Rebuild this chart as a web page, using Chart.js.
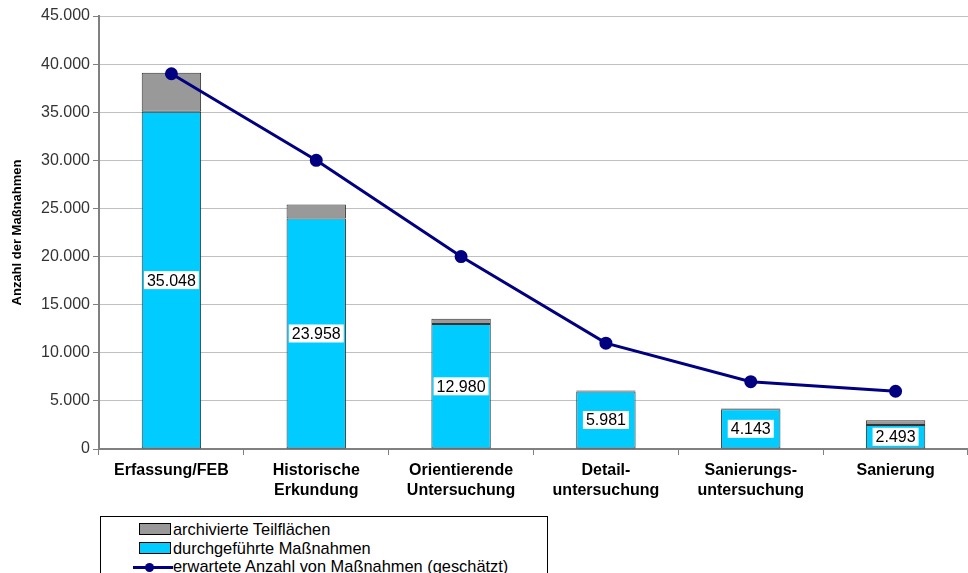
<!DOCTYPE html>
<html>
<head>
<meta charset="utf-8">
<script src="https://cdn.jsdelivr.net/npm/chart.js@4.4.1/dist/chart.umd.min.js"></script>
<style>
  body { margin: 0; background: #fff; font-family: "Liberation Sans", Arial, sans-serif; }
  #wrap { position: relative; width: 968px; height: 573px; overflow: hidden; }
  #legend { position: absolute; left: 100px; top: 516px; width: 446px; height: 70px;
            border: 1px solid #000; background: #fff; font-size: 16.4px; color: #000; }
  .row { position: absolute; left: 38px; height: 18px; line-height: 18px; white-space: nowrap; }
  .sw { display: inline-block; width: 30px; height: 10px; border: 1px solid #000; vertical-align: 0px; margin-right: 2px; }
  .ln { display: inline-block; position: relative; width: 40px; height: 10px; margin-left: -6px; margin-right: 0px; vertical-align: 0px; }
  .ln:before { content: ""; position: absolute; left: 0; right: 0; top: 4px; height: 3px; background: #000080; }
  .ln:after { content: ""; position: absolute; left: 12px; top: 1px; width: 9px; height: 9px; border-radius: 50%; background: #000080; }
</style>
</head>
<body>
<div id="wrap">
  <canvas id="myChart" width="968" height="573"></canvas>
  <div id="legend">
    <div class="row" style="top:3px"><span class="sw" style="background:#999999"></span>archivierte Teilflächen</div>
    <div class="row" style="top:22px"><span class="sw" style="background:#00ccff"></span>durchgeführte Maßnahmen</div>
    <div class="row" style="top:40px"><span class="ln"></span>erwartete Anzahl von Maßnahmen (geschätzt)</div>
  </div>
</div>
<script>
const categories = ['Erfassung/FEB', ['Historische', 'Erkundung'], ['Orientierende', 'Untersuchung'],
                    ['Detail-', 'untersuchung'], ['Sanierungs-', 'untersuchung'], 'Sanierung'];
const durchgefuehrt = [35048, 23958, 12980, 5981, 4143, 2493];
const archiviert = [4050, 1450, 550, 90, 60, 500];
const erwartet = [39000, 30000, 20000, 11000, 7000, 6000];
const yTicks = [0, 5000, 10000, 15000, 20000, 25000, 30000, 35000, 40000, 45000];

const FONT = '"Liberation Sans", Arial, sans-serif';

// German thousands separator
function fmt(v) {
    return String(v).replace(/\B(?=(\d{3})+(?!\d))/g, '.');
}

// Labels inside the blue bars
const barLabels = {
    id: 'barLabels',
    afterDatasetsDraw(chart) {
        const ctx = chart.ctx;
        const meta = chart.getDatasetMeta(1);
        ctx.save();
        ctx.font = '16px ' + FONT;
        ctx.textAlign = 'center';
        ctx.textBaseline = 'middle';
        meta.data.forEach((bar, i) => {
            const txt = fmt(durchgefuehrt[i]);
            const y = (bar.y + bar.base) / 2;
            const w = ctx.measureText(txt).width + 6;
            ctx.fillStyle = '#fff';
            ctx.fillRect(bar.x - w / 2, y - 9, w, 18);
            ctx.fillStyle = '#000';
            ctx.fillText(txt, bar.x, y + 1);
        });
        ctx.restore();
    }
};

new Chart(document.getElementById('myChart'), {
    data: {
        labels: categories,
        datasets: [{
            type: 'line',
            label: 'erwartete Anzahl von Maßnahmen (geschätzt)',
            data: erwartet,
            stack: 'line',
            order: 0,
            borderColor: '#000080',
            backgroundColor: '#000080',
            borderWidth: 3,
            pointRadius: 5,
            pointHoverRadius: 5,
            tension: 0
        }, {
            type: 'bar',
            label: 'durchgeführte Maßnahmen',
            data: durchgefuehrt,
            stack: 'bars',
            order: 1,
            backgroundColor: '#00ccff',
            borderColor: '#333333',
            borderWidth: 1,
            borderSkipped: false,
            barPercentage: 0.41,
            categoryPercentage: 1
        }, {
            type: 'bar',
            label: 'archivierte Teilflächen',
            data: archiviert,
            stack: 'bars',
            order: 2,
            backgroundColor: '#999999',
            borderColor: '#333333',
            borderWidth: 1,
            borderSkipped: false,
            barPercentage: 0.41,
            categoryPercentage: 1
        }]
    },
    options: {
        responsive: false,
        animation: false,
        layout: { autoPadding: false, padding: { top: 16, right: -2, left: 10, bottom: 66 } },
        plugins: { legend: { display: false }, tooltip: { enabled: false } },
        scales: {
            x: {
                stacked: true,
                afterFit(scale) { scale.paddingLeft = 0; scale.paddingRight = 0; },
                grid: { drawOnChartArea: false, drawTicks: true, tickLength: 6, offset: true, color: '#808080' },
                border: { color: '#808080', width: 2 },
                ticks: {
                    color: '#000',
                    font: { family: FONT, size: 16, weight: 'bold', lineHeight: 1.25 },
                    maxRotation: 0,
                    autoSkip: false,
                    padding: 6
                }
            },
            y: {
                stacked: true,
                min: 0,
                max: 45000,
                afterBuildTicks(scale) { scale.ticks = yTicks.map(v => ({ value: v })); },
                afterFit(scale) { scale.width = 89; scale.paddingTop = 0; scale.paddingBottom = 0; },
                grid: { color: '#c0c0c0', lineWidth: 1, tickLength: 6, tickColor: '#808080' },
                border: { color: '#808080', width: 2 },
                ticks: {
                    color: '#333',
                    font: { family: FONT, size: 16 },
                    padding: 3,
                    callback: v => fmt(v)
                },
                title: {
                    display: true,
                    text: 'Anzahl der Maßnahmen',
                    color: '#000',
                    font: { family: FONT, size: 13, weight: 'bold' },
                    padding: { top: 0, bottom: 0 }
                }
            }
        }
    },
    plugins: [barLabels]
});
</script>
</body>
</html>
